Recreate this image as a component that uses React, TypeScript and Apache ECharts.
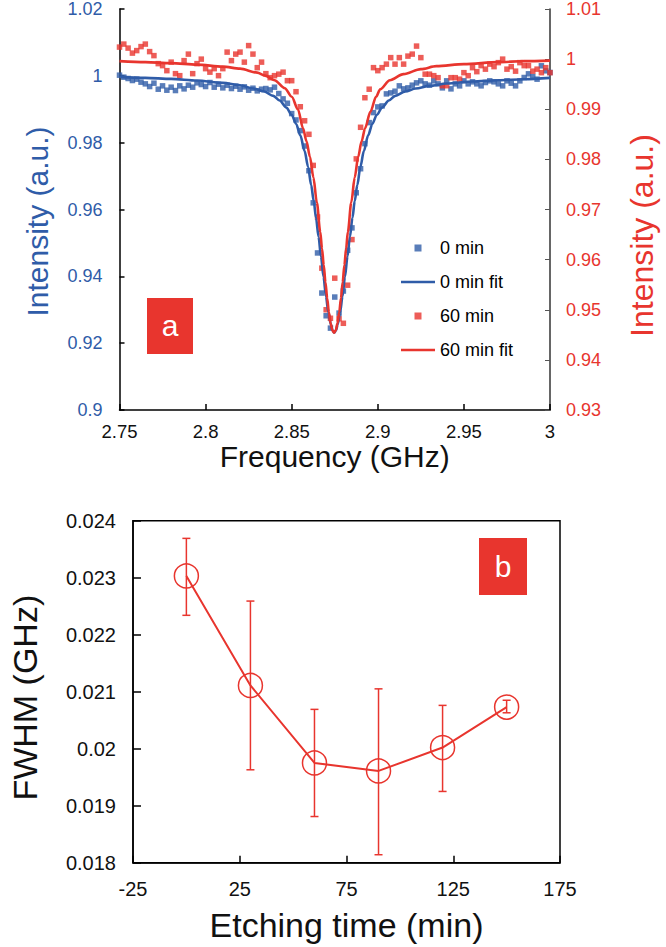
import React, { useEffect, useRef } from "react";
import * as echarts from "echarts";

// ---------- Panel (a): ODMR spectra ----------
const freq = [
  2.75, 2.7525, 2.755, 2.7575, 2.76, 2.7625, 2.765, 2.7675, 2.77, 2.7725,
  2.775, 2.7775, 2.78, 2.7825, 2.785, 2.7875, 2.79, 2.7925, 2.795, 2.7975,
  2.8, 2.8025, 2.805, 2.8075, 2.81, 2.8125, 2.815, 2.8175, 2.82, 2.8225,
  2.825, 2.8275, 2.83, 2.8325, 2.835, 2.8375, 2.84, 2.8425, 2.845, 2.8475,
  2.85, 2.8525, 2.855, 2.8575, 2.86, 2.8625, 2.865, 2.8675, 2.87, 2.8725,
  2.875, 2.8775, 2.88, 2.8825, 2.885, 2.8875, 2.89, 2.8925, 2.895, 2.8975,
  2.9, 2.9025, 2.905, 2.9075, 2.91, 2.9125, 2.915, 2.9175, 2.92, 2.9225,
  2.925, 2.9275, 2.93, 2.9325, 2.935, 2.9375, 2.94, 2.9425, 2.945, 2.9475,
  2.95, 2.9525, 2.955, 2.9575, 2.96, 2.9625, 2.965, 2.9675, 2.97, 2.9725,
  2.975, 2.9775, 2.98, 2.9825, 2.985, 2.9875, 2.99, 2.9925, 2.995, 2.9975,
  3.0,
];

const int0min = [
  1.0002, 0.9996, 0.9992, 0.9986, 0.999, 0.9981, 0.9976, 0.9968, 0.9978, 0.996,
  0.997, 0.9957, 0.9966, 0.9956, 0.997, 0.9961, 0.9972, 0.9966, 0.9979, 0.9974,
  0.9968, 0.998, 0.9966, 0.9975, 0.9964, 0.9972, 0.9962, 0.9969, 0.996, 0.9967,
  0.9957, 0.9963, 0.9955, 0.996, 0.9962, 0.9958, 0.9966, 0.9947, 0.9931, 0.9918,
  0.9887, 0.9868, 0.9836, 0.979, 0.9716, 0.962, 0.947, 0.935, 0.9282, 0.9245,
  0.9338, 0.929, 0.9356, 0.9478, 0.9545, 0.965, 0.9722, 0.9797, 0.986, 0.989,
  0.9907, 0.991, 0.9946, 0.9949, 0.9954, 0.997, 0.9961, 0.9964, 0.9972, 0.9979,
  0.9985, 0.9976, 0.9972, 0.9985, 0.9976, 0.9964, 0.9985, 0.9961, 0.9976, 0.997,
  0.9985, 0.9976, 0.9982, 0.9976, 0.997, 0.998, 0.9985, 0.9982, 0.9976, 0.997,
  0.9985, 0.9978, 0.997, 0.9985, 0.9995, 1.0006, 0.9998, 0.999, 1.003, 1.0015,
  1.001,
];

const int60min = [
  1.0024, 1.003, 1.0022, 1.0012, 1.0017, 1.0025, 1.003, 1.0015, 1.0007, 0.9991,
  0.9987, 0.9977, 0.9994, 0.9971, 0.9967, 0.9997, 1.001, 0.9971, 0.9991, 1.0,
  0.9981, 0.9974, 0.9981, 0.9967, 0.9981, 1.0014, 0.9997, 1.001, 1.0014, 0.9994,
  1.0027, 1.001, 0.9983, 0.9994, 0.9971, 0.9963, 0.9967, 0.997, 0.9974, 0.9957,
  0.9957, 0.9935, 0.9905, 0.9877, 0.985, 0.9788, 0.9685, 0.9583, 0.95, 0.9483,
  0.9563, 0.9482, 0.9473, 0.9549, 0.964, 0.9801, 0.9864, 0.9923, 0.994, 0.9983,
  0.9977, 0.9983, 0.999, 1.0003, 0.999, 1.0003, 0.999, 1.0006, 1.001, 1.0026,
  1.0003, 0.997, 0.997, 0.9967, 0.9963, 0.9947, 0.9947, 0.9963, 0.9963, 0.996,
  0.9973, 0.9967, 0.9983, 0.9975, 0.9987, 0.998, 0.999, 0.9985, 0.9993, 1.0,
  0.998, 0.9985, 0.9976, 0.9993, 0.9987, 0.9987, 0.9976, 0.998, 0.9973, 0.9983,
  0.9973,
];

const fit0Freq = [
  2.75, 2.765, 2.78, 2.795, 2.81, 2.82, 2.8278, 2.834, 2.8393, 2.843, 2.8469,
  2.85, 2.8526, 2.855, 2.8575, 2.8595, 2.8613, 2.8628, 2.8641, 2.8656, 2.867,
  2.8685, 2.8699, 2.8713, 2.8727, 2.8737, 2.8747, 2.8757, 2.8767, 2.8781,
  2.8795, 2.8809, 2.8824, 2.8838, 2.8853, 2.8866, 2.8881, 2.8899, 2.8919,
  2.8944, 2.8968, 2.8994, 2.9025, 2.9064, 2.9101, 2.916, 2.922, 2.93, 2.94,
  2.955, 2.97, 2.985, 3.0,
];
const fit0 = [
  0.9997, 0.9994, 0.9991, 0.9986, 0.9979, 0.9972, 0.9962, 0.9953, 0.994,
  0.9926, 0.9905, 0.9883, 0.9856, 0.9822, 0.9775, 0.9728, 0.9673, 0.9625,
  0.9576, 0.9518, 0.946, 0.9398, 0.934, 0.9292, 0.9256, 0.9238, 0.9232,
  0.9238, 0.9256, 0.9292, 0.934, 0.9398, 0.946, 0.9518, 0.9576, 0.9625,
  0.9673, 0.9728, 0.9775, 0.9822, 0.9856, 0.9883, 0.9905, 0.9926, 0.994,
  0.9953, 0.9962, 0.997, 0.9977, 0.9983, 0.9987, 0.999, 0.9994,
];

const fit60Freq = [
  2.75, 2.765, 2.78, 2.795, 2.81, 2.82, 2.83, 2.8345, 2.84, 2.846, 2.85,
  2.8536, 2.8566, 2.8586, 2.8606, 2.8626, 2.8646, 2.8666, 2.8676, 2.8686,
  2.8696, 2.8706, 2.8716, 2.8726, 2.8736, 2.8746, 2.8756, 2.8766, 2.8776,
  2.8786, 2.8796, 2.8806, 2.8816, 2.8826, 2.8846, 2.8866, 2.8886, 2.8906,
  2.8926, 2.8957, 2.899, 2.9014, 2.907, 2.9149, 2.925, 2.934, 2.95, 2.97,
  2.985, 3.0,
];
const fit60 = [
  0.9996, 0.9994, 0.9992, 0.9989, 0.9985, 0.9981, 0.9973, 0.9967, 0.9958,
  0.9942, 0.9925, 0.99, 0.9862, 0.9836, 0.9805, 0.9764, 0.9714, 0.9655,
  0.9622, 0.9589, 0.9555, 0.9523, 0.9495, 0.9473, 0.9459, 0.9454, 0.9459,
  0.9473, 0.9495, 0.9523, 0.9555, 0.9589, 0.9622, 0.9655, 0.9714, 0.9764,
  0.9805, 0.9836, 0.9862, 0.9895, 0.9925, 0.994, 0.9958, 0.997, 0.998,
  0.9986, 0.999, 0.9994, 0.9996, 0.9997,
];

// ---------- Panel (b): FWHM vs etching time ----------
const etchTime = [0, 30, 60, 90, 120, 150];
const fwhm = [0.02303, 0.02111, 0.01975, 0.01961, 0.02002, 0.02073];
const fwhmLow = [0.02234, 0.01963, 0.01881, 0.01814, 0.01925, 0.02063];
const fwhmHigh = [0.02369, 0.02259, 0.02069, 0.02105, 0.02076, 0.02085];

const xTicksB = [-25, 25, 75, 125, 175];

const BLUE = "#2F5CA8";
const RED = "#E8352E";
const FONT = "'Liberation Sans', Arial, Helvetica, sans-serif";
const SQUARE = "path://M0,0H10V10H0Z";
const LINE_ICON = "path://M0,0H34V2.6H0Z";

export default function App() {
  const ref = useRef<HTMLDivElement>(null);

  useEffect(() => {
    document.body.style.margin = "0";
    if (!ref.current) return;
    const chart = echarts.init(ref.current, undefined, { renderer: "svg" });

    const axisLineBlack = { show: true, onZero: false, lineStyle: { color: "#000", width: 1.5 } };

    const option: any = {
      animation: false,
      backgroundColor: "#fff",
      textStyle: { fontFamily: FONT },
      grid: [
        { left: 119.5, top: 8, width: 435.5, height: 402 },
        {
          left: 125.7, top: 520.7, width: 434.3, height: 342,
          show: true, borderColor: "#000", borderWidth: 1.5, backgroundColor: "transparent",
        },
      ],
      legend: {
        left: 396, top: 233, orient: "vertical",
        itemWidth: 34, itemHeight: 7, itemGap: 14,
        textStyle: { fontSize: 18, color: "#000", lineHeight: 20, fontFamily: FONT },
        data: [
          { name: "0 min", icon: SQUARE },
          { name: "0 min fit", icon: LINE_ICON },
          { name: "60 min", icon: SQUARE },
          { name: "60 min fit", icon: LINE_ICON },
        ],
      },
      xAxis: [
        {
          gridIndex: 0, type: "value", min: 2.75, max: 3, interval: 0.05,
          axisLine: axisLineBlack,
          axisTick: { show: true, inside: true, length: 6, lineStyle: { color: "#000", width: 1.5 } },
          splitLine: { show: false },
          axisLabel: { color: "#111", fontSize: 18.5, margin: 12, fontFamily: FONT },
          name: "Frequency (GHz)", nameLocation: "middle", nameGap: 31,
          nameTextStyle: { fontSize: 30, color: "#111", fontFamily: FONT },
        },
        {
          gridIndex: 1, type: "value", min: -25, max: 175,
          axisLine: axisLineBlack,
          axisTick: { show: true, inside: true, length: 7, customValues: xTicksB, lineStyle: { color: "#000", width: 1.5 } },
          splitLine: { show: false },
          axisLabel: { color: "#111", fontSize: 20, margin: 16, customValues: xTicksB, fontFamily: FONT },
          name: "Etching time (min)", nameLocation: "middle", nameGap: 45,
          nameTextStyle: { fontSize: 34, color: "#111", fontFamily: FONT },
        },
      ],
      yAxis: [
        {
          gridIndex: 0, type: "value", position: "left", min: 0.9, max: 1.02, interval: 0.02,
          axisLine: axisLineBlack,
          axisTick: { show: true, inside: true, length: 5, lineStyle: { color: "#000", width: 1.5 } },
          splitLine: { show: false },
          axisLabel: { color: BLUE, fontSize: 18, margin: 17, fontFamily: FONT },
          name: "Intensity (a.u.)", nameLocation: "middle", nameGap: 67,
          nameTextStyle: { fontSize: 30, color: BLUE, padding: [0, 24, 0, 0], fontFamily: FONT },
        },
        {
          gridIndex: 0, type: "value", position: "right", min: 0.93, max: 1.01, interval: 0.01,
          axisLine: { show: true, onZero: false, lineStyle: { color: "#333", width: 1.5 } },
          axisTick: { show: true, inside: true, length: 5, lineStyle: { color: "#555", width: 1 } },
          splitLine: { show: false },
          axisLabel: { color: RED, fontSize: 18, margin: 16, fontFamily: FONT },
          name: "Intensity (a.u.)", nameLocation: "middle", nameGap: 76,
          nameTextStyle: { fontSize: 32, color: RED, padding: [0, 52, 0, 0], fontFamily: FONT },
        },
        {
          gridIndex: 1, type: "value", min: 0.018, max: 0.024, interval: 0.001,
          axisLine: axisLineBlack,
          axisTick: { show: true, inside: true, length: 8, lineStyle: { color: "#000", width: 1.5 } },
          splitLine: { show: false },
          axisLabel: { color: "#111", fontSize: 20, margin: 17, fontFamily: FONT },
          name: "FWHM (GHz)", nameLocation: "middle", nameGap: 91,
          nameTextStyle: { fontSize: 34, color: "#111", padding: [0, 12, 0, 0], fontFamily: FONT },
        },
      ],
      series: [
        {
          name: "0 min", type: "scatter", xAxisIndex: 0, yAxisIndex: 0,
          symbol: "rect", symbolSize: 5.5, itemStyle: { color: BLUE },
          data: freq.map((f, i) => [f, int0min[i]]),
        },
        {
          name: "60 min", type: "scatter", xAxisIndex: 0, yAxisIndex: 1,
          symbol: "rect", symbolSize: 5.5, itemStyle: { color: RED },
          data: freq.map((f, i) => [f, int60min[i]]),
        },
        {
          name: "0 min fit", type: "line", xAxisIndex: 0, yAxisIndex: 0,
          symbol: "none", showSymbol: false, smooth: 0.3, smoothMonotone: "x",
          lineStyle: { color: BLUE, width: 2.6 }, itemStyle: { color: BLUE },
          data: fit0Freq.map((f, i) => [f, fit0[i]]),
        },
        {
          name: "60 min fit", type: "line", xAxisIndex: 0, yAxisIndex: 1,
          symbol: "none", showSymbol: false, smooth: 0.3, smoothMonotone: "x",
          lineStyle: { color: RED, width: 2.6 }, itemStyle: { color: RED },
          data: fit60Freq.map((f, i) => [f, fit60[i]]),
        },
        {
          name: "FWHM", type: "line", xAxisIndex: 1, yAxisIndex: 2,
          symbol: "circle", symbolSize: 24, showSymbol: true,
          lineStyle: { color: RED, width: 2 },
          itemStyle: { color: "rgba(0,0,0,0)", borderColor: RED, borderWidth: 1.5 },
          data: etchTime.map((t, i) => [t, fwhm[i]]),
        },
        {
          name: "FWHM error", type: "custom", xAxisIndex: 1, yAxisIndex: 2, z: 3,
          encode: { x: 0, y: [1, 2] },
          data: etchTime.map((t, i) => [t, fwhmLow[i], fwhmHigh[i]]),
          renderItem: (params: any, api: any) => {
            const x = api.value(0);
            const lo = api.coord([x, api.value(1)]);
            const hi = api.coord([x, api.value(2)]);
            const w = 4;
            const st = { stroke: RED, lineWidth: 1.5 };
            return {
              type: "group",
              children: [
                { type: "line", shape: { x1: lo[0], y1: lo[1], x2: hi[0], y2: hi[1] }, style: st },
                { type: "line", shape: { x1: lo[0] - w, y1: lo[1], x2: lo[0] + w, y2: lo[1] }, style: st },
                { type: "line", shape: { x1: hi[0] - w, y1: hi[1], x2: hi[0] + w, y2: hi[1] }, style: st },
              ],
            };
          },
        },
      ],
      graphic: [
        { type: "rect", shape: { x: 147, y: 298, width: 46, height: 56 }, style: { fill: RED }, z: 10 },
        {
          type: "text", x: 170, y: 325, z: 11,
          style: { text: "a", fill: "#fff", fontSize: 30, fontFamily: FONT, align: "center", verticalAlign: "middle", textAlign: "center", textVerticalAlign: "middle" },
        },
        { type: "rect", shape: { x: 479, y: 538, width: 48, height: 57 }, style: { fill: RED }, z: 10 },
        {
          type: "text", x: 503, y: 566, z: 11,
          style: { text: "b", fill: "#fff", fontSize: 30, fontFamily: FONT, align: "center", verticalAlign: "middle", textAlign: "center", textVerticalAlign: "middle" },
        },
      ],
    };

    chart.setOption(option);
    return () => chart.dispose();
  }, []);

  return <div ref={ref} style={{ width: 666, height: 947 }} />;
}
